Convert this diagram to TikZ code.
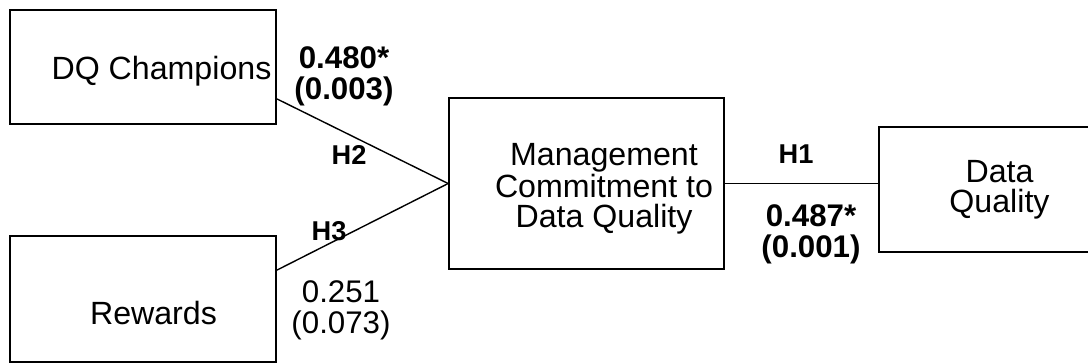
\documentclass[tikz,border=0pt]{standalone}
\usepackage{fontspec}
\setmainfont{Liberation Sans}
\usetikzlibrary{positioning}

\begin{document}
\begin{tikzpicture}[
        x=0.02cm, y=-0.02cm,
        box/.style={
          rectangle,
          draw=black,
          line width=1pt,
          inner sep=0pt
        },
        boxtext/.style={
          font=\fontsize{18.3pt}{17pt}\selectfont,
          align=center,
          inner sep=0pt
        },
        coef/.style={
          font=\fontsize{17.8pt}{17.6pt}\selectfont,
          align=center,
          inner sep=0pt
        },
        hyp/.style={
          font=\fontsize{15.5pt}{15.5pt}\selectfont\bfseries,
          inner sep=0pt,
          anchor=base
        },
        path/.style={
          draw=black,
          line width=0.8pt
        }
      ]
      \useasboundingbox (0,0) rectangle (1088,363);

      % Boxes
      \node [box, minimum width=266*0.02cm, minimum height=114*0.02cm] (champ) at (143,67) {};
      \node [box, minimum width=266*0.02cm, minimum height=126*0.02cm] (rew) at (143,299) {};
      \node [box, minimum width=275*0.02cm, minimum height=171*0.02cm] (mc) at (586.5,183.5) {};
      \node [box, minimum width=240*0.02cm, minimum height=125*0.02cm] (dq) at (999,189.5) {};

      % Box texts
      \node [boxtext, anchor=base] (champtext) at (161.5,79) {DQ Champions};
      \node [boxtext, anchor=base] (rewtext) at (153.5,324) {Rewards};
      \node [boxtext] (mctext) at (604,188.5) {Management\\Commitment to\\Data Quality};
      \node [boxtext] (dqtext) at (999.5,189.5) {Data\\Quality};

      % Paths
      \draw [path] ([yshift=26*0.02cm]champ.south east) -- (mc.west);
      \draw [path] ([yshift=-35*0.02cm]rew.north east) -- (mc.west);
      \draw [path] (mc.east) -- (mc.east -| dq.west);

      % Hypotheses and coefficients
      \node [hyp] (h2) at (349,164) {H2};
      \node [hyp] (h3) at (329,240) {H3};
      \node [hyp] (h1) at (796,163) {H1};
      \node [coef, font=\fontsize{17.8pt}{17.6pt}\selectfont\bfseries] (c2) at (344,76.6) {0.480*\\(0.003)};
      \node [coef] (c3) at (341,310.6) {0.251\\(0.073)};
      \node [coef, font=\fontsize{17.8pt}{17.6pt}\selectfont\bfseries] (c1) at (811,234.6) {0.487*\\(0.001)};

    \end{tikzpicture}
\end{document}
